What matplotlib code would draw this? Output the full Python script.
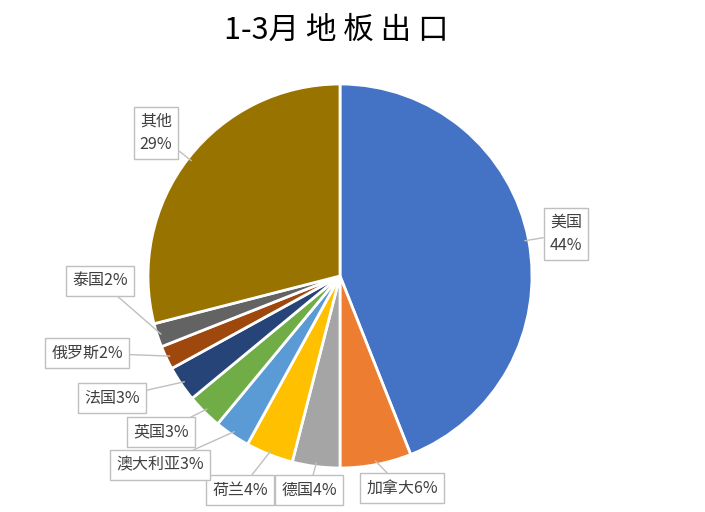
import numpy as np
import matplotlib
matplotlib.use('Agg')
import matplotlib.pyplot as plt

plt.rcParams['font.family'] = ['Noto Sans CJK SC', 'DejaVu Sans']

# 数据
countries = ['美国', '加拿大', '德国', '荷兰', '澳大利亚', '英国', '法国', '俄罗斯', '泰国', '其他']
shares = [44, 6, 4, 4, 3, 3, 3, 2, 2, 29]
colors = ['#4472C4', '#ED7D31', '#A5A5A5', '#FFC000', '#5B9BD5',
          '#70AD47', '#264478', '#9E480E', '#636363', '#997300']
two_line = {'美国', '其他'}

# 标签框的位置（像素，左上角为原点）
label_pos = [(566, 234), (402, 488), (309, 490), (240, 490), (160, 465),
             (161, 432), (112, 398), (87, 353), (100, 281), (156, 133)]

W, H = 705, 512
cx, cy, R = 340, H - 276, 192

fig = plt.figure(figsize=(W / 100, H / 100), dpi=100)
ax = fig.add_axes([0, 0, 1, 1])
ax.set_aspect('equal')
ax.axis('off')

wedges, _ = ax.pie(shares, colors=colors, startangle=90, counterclock=False,
                   center=(cx, cy), radius=R,
                   wedgeprops=dict(edgecolor='white', linewidth=2))
ax.set_xlim(0, W)
ax.set_ylim(0, H)

total = sum(shares)
start = 90
for name, val, (px, py) in zip(countries, shares, label_pos):
    ang = start - val / total * 360 / 2
    start -= val / total * 360
    a = np.deg2rad(ang)
    pt = (cx + R * 0.98 * np.cos(a), cy + R * 0.98 * np.sin(a))
    txt = f'{name}\n{val}%' if name in two_line else f'{name}{val}%'
    ax.annotate(txt, xy=pt, xytext=(px, H - py), ha='center', va='center',
                fontsize=11.5, color='#404040', linespacing=1.45,
                bbox=dict(boxstyle='square,pad=0.38', fc='white', ec='#BFBFBF', lw=1),
                arrowprops=dict(arrowstyle='-', color='#BFBFBF', lw=1,
                                shrinkA=0, shrinkB=0))

fig.text(336 / W, 1 - 30 / H, '1-3月 地 板 出 口', ha='center', va='center',
         fontsize=22, color='black')

fig.savefig('out.png', dpi=100)
